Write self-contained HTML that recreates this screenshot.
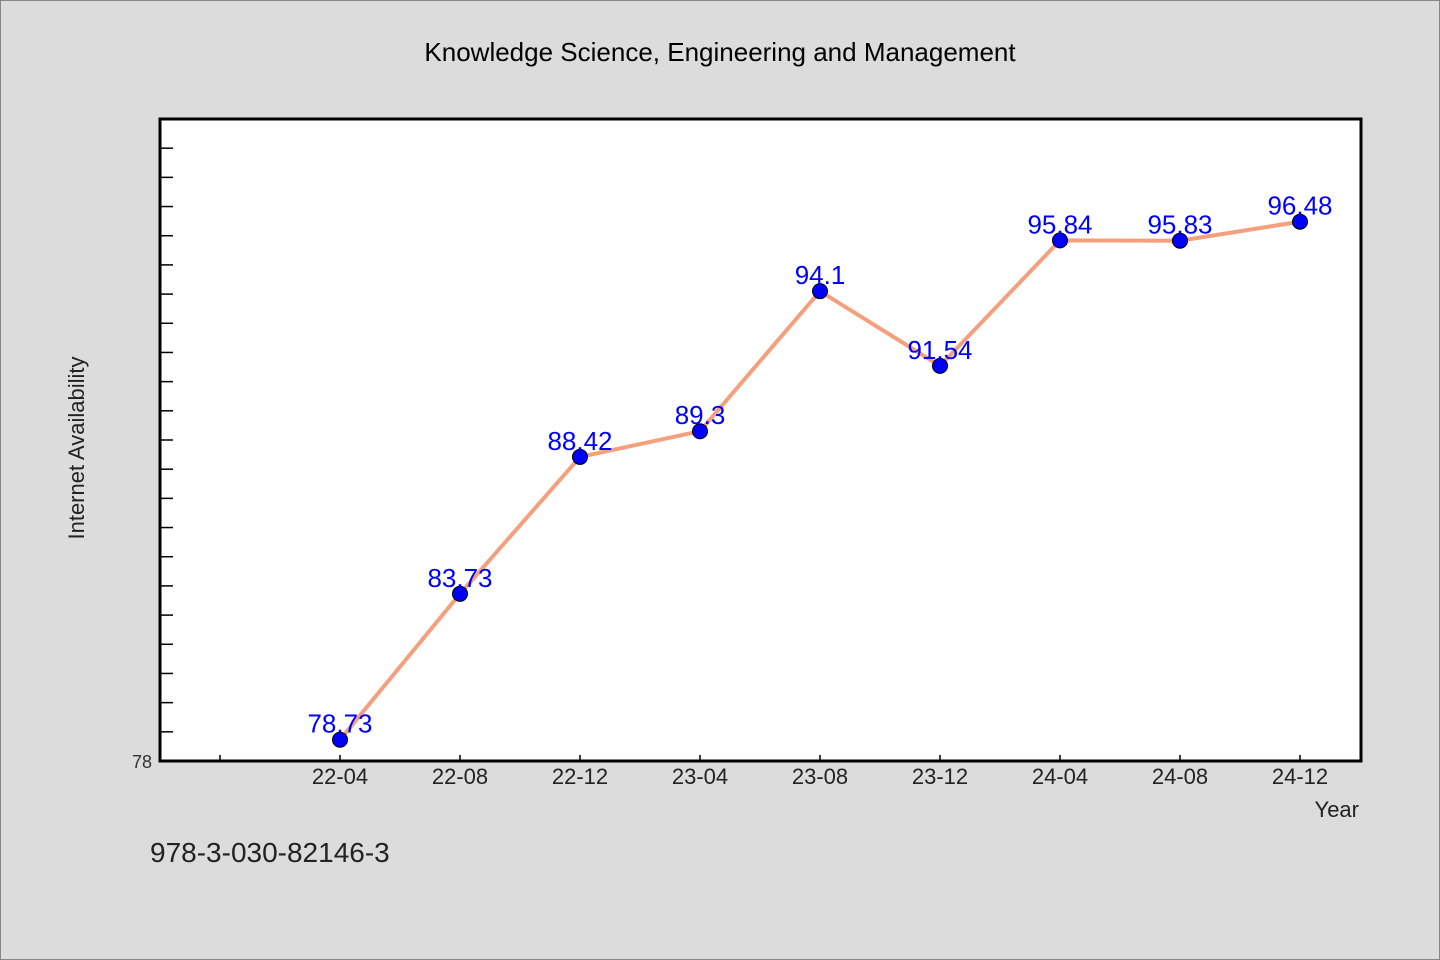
<!DOCTYPE html>
<html><head><meta charset="utf-8"><style>
html,body{margin:0;padding:0;background:#dcdcdc;}
svg{display:block;font-family:"WenQuanYi Zen Hei","Liberation Sans",sans-serif;}
</style></head><body>
<svg width="1440" height="960" xmlns="http://www.w3.org/2000/svg">
<rect x="0.5" y="0.5" width="1439" height="959" fill="#dcdcdc" stroke="#888"/>
<text x="720" y="61" text-anchor="middle" font-size="26" fill="#000">Knowledge Science, Engineering and Management</text>
<rect x="160" y="119" width="1201" height="642" fill="#fff" stroke="#000" stroke-width="3"/>
<g id="yticks"></g><g id="xticks"></g>
<text transform="translate(84,448) rotate(-90)" text-anchor="middle" font-size="22" fill="#222">Internet Availability</text>
<text x="1359" y="817" text-anchor="end" font-size="22" fill="#222">Year</text>
<text x="150" y="862" font-size="28" fill="#222">978-3-030-82146-3</text>
<g id="series"></g>
</svg>
<script>
const categories=["22-04","22-08","22-12","23-04","23-08","23-12","24-04","24-08","24-12"];
const values=[78.73,83.73,88.42,89.3,94.1,91.54,95.84,95.83,96.48];
const labels=["78.73","83.73","88.42","89.3","94.1","91.54","95.84","95.83","96.48"];
const yMin=78,yMax=100;
const NS="http://www.w3.org/2000/svg";
const X=i=>340+i*120;
const Y=v=>761-(v-yMin)*(642/(yMax-yMin));
function mk(t,a,p){const e=document.createElementNS(NS,t);for(const k in a)e.setAttribute(k,a[k]);p.appendChild(e);return e;}
const yt=document.getElementById('yticks');
for(let v=yMin+1;v<yMax;v++){
 const l=mk('line',{x1:160,x2:173,y1:Y(v),y2:Y(v),stroke:'#000','stroke-width':1.5},yt);
 
 
}
const yl=mk('text',{x:152,y:768,'text-anchor':'end','font-size':18,fill:'#333'},yt);


yl.textContent=String(yMin);
const xt=document.getElementById('xticks');
for(let i=-1;i<categories.length;i++){
 const l=mk('line',{x1:X(i),x2:X(i),y1:755,y2:761,stroke:'#000','stroke-width':1.5},xt);
 
 
 if(i>=0){
  const t=mk('text',{x:X(i),y:784,'text-anchor':'middle','font-size':22,fill:'#222'},xt);
  
  
  t.textContent=categories[i];
 }
}
const s=document.getElementById('series');
const line=mk('polyline',{points:values.map((v,i)=>X(i)+','+Y(v)).join(' '),fill:'none',stroke:'#f4a07e','stroke-width':4},s);


values.forEach((v,i)=>{
 const c=mk('circle',{cx:X(i),cy:Y(v),r:7.5,fill:'#0000ff',stroke:'#000','stroke-width':1},s);
 
 
});
values.forEach((v,i)=>{
 const t=mk('text',{x:X(i),y:Y(v)-7,'text-anchor':'middle','font-size':26,fill:'#0000ff'},s);
 
 
 t.textContent=labels[i];
});
</script>
</body></html>
